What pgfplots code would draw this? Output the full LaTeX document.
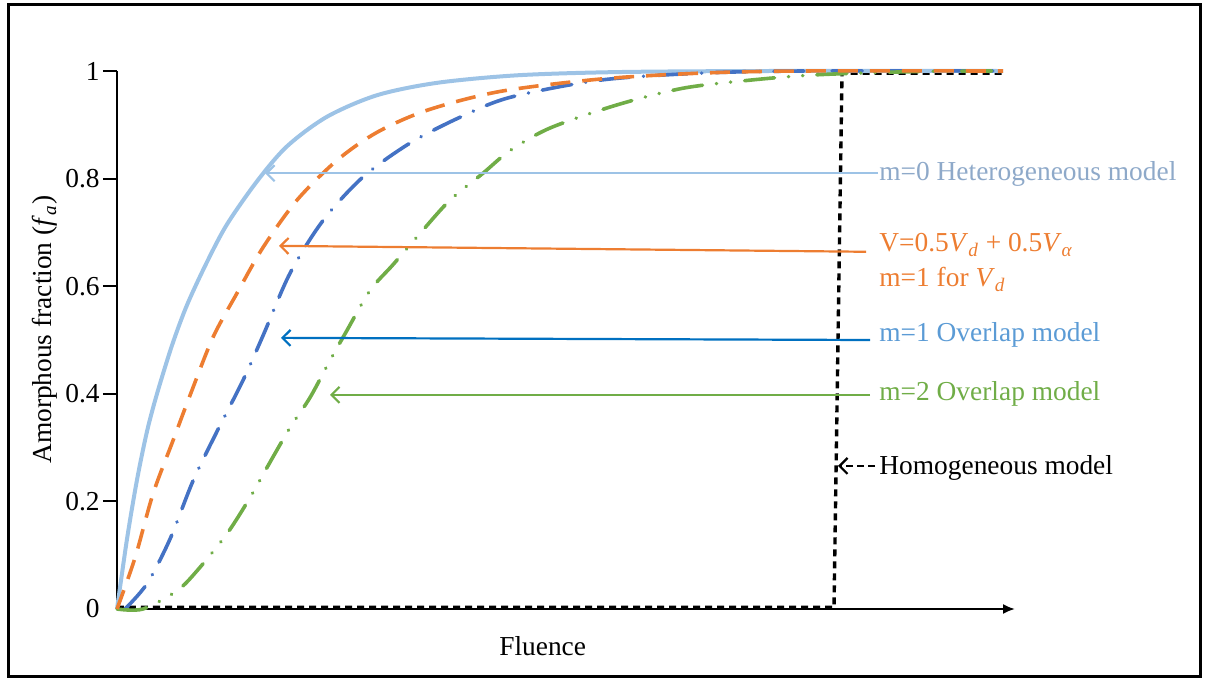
\documentclass[border=0pt]{standalone}
\usepackage{fontspec}
\setmainfont{Liberation Serif}
\usepackage{pgfplots}
\pgfplotsset{compat=1.18}
\usetikzlibrary{arrows.meta}
\definecolor{cLB}{HTML}{9DC3E6}
\definecolor{cOR}{HTML}{ED7D31}
\definecolor{cBL}{HTML}{4472C4}
\definecolor{cGR}{HTML}{70AD47}
\definecolor{cBA}{HTML}{0070C0}
\definecolor{cT0}{HTML}{8EA9C9}
\definecolor{cT1}{HTML}{5B9BD5}
\begin{document}
\begin{tikzpicture}[font=\fontsize{13.7}{16}\selectfont]
\path[use as bounding box] (-58.5pt,-36.5pt) rectangle (546pt,304.5pt);
\draw[line width=1.5pt] (-54.25pt,-33.75pt) rectangle (541.5pt,302.25pt);
\begin{axis}[
  at={(0,0)}, anchor=south west,
  scale only axis, width=449pt, height=269pt,
  xmin=0, xmax=898, ymin=0, ymax=1,
  axis x line=bottom, axis y line=left,
  axis line style={line width=1pt},
  x axis line style={-{Latex[length=6pt,width=5pt]}},
  y axis line style={-},
  xtick=\empty,
  ytick={0.2,0.4,0.6,0.8,1},
  extra y ticks={0},
  extra y tick style={major tick length=0pt, yticklabel style={xshift=-7pt}},
  tick align=outside, major tick length=7pt,
  tick style={line width=1pt, black},
  yticklabel style={inner xsep=1.5pt},
  /pgf/number format/assume math mode=true,
  clip=false,
  xlabel={Fluence},
  xlabel style={at={(axis description cs:0.474,-0.069)}, anchor=center},
  ylabel={Amorphous fraction (\textit{f}\textsubscript{\textit{a}})},
  ylabel style={at={(axis description cs:-0.080,0.519)}, anchor=center},
]
% homogeneous model
\addplot[black, line width=1.7pt, dash pattern=on 3.5pt off 2.5pt] coordinates {
(0,0.003) (717,0.003) (725,0.996) (888,0.996)};
% m=0 heterogeneous
\addplot[cLB, line width=2pt, smooth] coordinates {
(0,0) (10,0.13) (20,0.24) (30,0.33) (40,0.40) (55,0.49) (70,0.565)
(90,0.645) (110,0.715) (140,0.795) (170,0.86) (210,0.915) (260,0.955)
(320,0.978) (400,0.992) (500,0.998) (650,1.0) (886,1.0)};
% m=1 overlap
\addplot[cBL, line width=1.8pt, smooth, line cap=round, dash pattern=on 15pt off 7pt on 0.1pt off 7pt] coordinates {
(8,0) (30,0.047) (53,0.13) (76,0.238) (100,0.33) (126,0.425) (146,0.508)
(173,0.624) (206,0.722) (246,0.803) (293,0.866) (343,0.914) (393,0.951)
(483,0.983) (583,0.996) (686,1.0) (886,1.0)};
% m=2 overlap
\addplot[cGR, line width=1.8pt, smooth, line cap=round, dash pattern=on 15pt off 7pt on 0.1pt off 7pt on 0.1pt off 7pt] coordinates {
(0,0) (26,0) (60,0.034) (80,0.071) (110,0.14) (133,0.207) (150,0.263)
(173,0.337) (193,0.393) (213,0.462) (230,0.518) (253,0.592) (276,0.64)
(303,0.698) (333,0.76) (366,0.81) (393,0.852) (433,0.894) (500,0.937)
(566,0.968) (633,0.983) (700,0.993) (800,0.999) (886,1.0)};
% V = 0.5Vd + 0.5Va
\addplot[cOR, line width=1.8pt, smooth, dash pattern=on 10pt off 6pt] coordinates {
(0,0) (18,0.095) (36,0.214) (56,0.313) (73,0.397) (96,0.505) (120,0.587)
(146,0.672) (180,0.76) (220,0.834) (260,0.886) (310,0.927) (383,0.962)
(483,0.985) (583,0.996) (683,1.0) (886,1.0)};
% annotations
\draw[cLB, line width=1.1pt, -{Straight Barb[length=4pt,width=8pt]}] (axis cs:761,0.810) -- (axis cs:148,0.810);
\draw[cOR, line width=1.1pt, -{Straight Barb[length=4pt,width=8pt]}] (axis cs:749,0.664) -- (axis cs:162,0.675);
\draw[cBA, line width=1.1pt, -{Straight Barb[length=4pt,width=8pt]}] (axis cs:753,0.500) -- (axis cs:164,0.504);
\draw[cGR, line width=1.1pt, -{Straight Barb[length=4pt,width=8pt]}] (axis cs:753,0.398) -- (axis cs:213,0.398);
\draw[black, line width=1.1pt, dash pattern=on 3.5pt off 2pt, -{Straight Barb[length=4pt,width=8pt]}] (axis cs:758,0.266) -- (axis cs:721,0.266);
\node[anchor=base west, inner sep=0pt, text=cT0] at (axis cs:762,0.797) {m=0 Heterogeneous model};
\node[anchor=base west, inner sep=0pt, text=cOR] at (axis cs:762,0.664) {V=0.5\textit{V}\textsubscript{\textit{d}} + 0.5\textit{V}\textsubscript{\textit{α}}};
\node[anchor=base west, inner sep=0pt, text=cOR] at (axis cs:762,0.599) {m=1 for \textit{V}\textsubscript{\textit{d}}};
\node[anchor=base west, inner sep=0pt, text=cT1] at (axis cs:762,0.497) {m=1 Overlap model};
\node[anchor=base west, inner sep=0pt, text=cGR] at (axis cs:762,0.387) {m=2 Overlap model};
\node[anchor=base west, inner sep=0pt, text=black] at (axis cs:762,0.250) {Homogeneous model};
\end{axis}
\end{tikzpicture}
\end{document}
